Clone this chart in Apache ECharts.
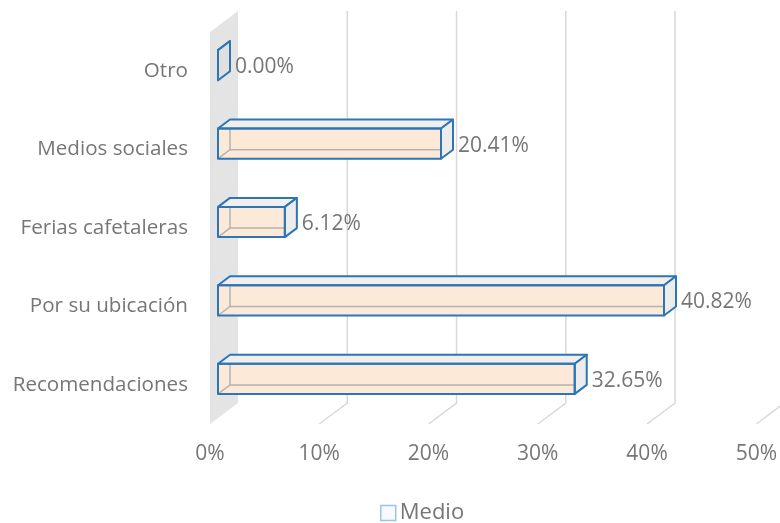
<!DOCTYPE html>
<html>
<head>
<meta charset="utf-8">
<script src="https://cdn.jsdelivr.net/npm/echarts@6/dist/echarts.min.js"></script>
<style>
  html, body { margin: 0; padding: 0; background: #ffffff; }
  #chart { width: 780px; height: 523px; }
</style>
</head>
<body>
<div id="chart"></div>
<script>
// Categories listed top to bottom
var categories = ['Otro', 'Medios sociales', 'Ferias cafetaleras', 'Por su ubicación', 'Recomendaciones'];
// Share of answers (%)
var values = [0.00, 20.41, 6.12, 40.82, 32.65];
// Value-axis ticks (%)
var xTicks = [0, 10, 20, 30, 40, 50];
var seriesName = 'Medio';

var FONT = '"Open Sans", "Noto Sans", sans-serif';
var TEXT = '#767676';
var GRID = '#d9d9d9';
var WALL = '#e4e4e4';
var EDGE = '#2e75b6';
var INNER = '#b3b3b3';
var FRONT = '#fce9d7';
var TOP = '#f1efee';
var END = '#eeeceb';

// Oblique depth of the plot box (pixels)
var DEPTH_X = 28, DEPTH_Y = 21;
// Bar sits between these fractions of the depth
var BAR_D0 = 8 / 28, BAR_D1 = 20 / 28;
var BAR_FRAC = 0.385;

function renderGrid(params, api) {
  var v = api.value(0);
  var cs = params.coordSys;
  var x = api.coord([v, 0])[0];
  var bottom = cs.y + cs.height;
  var top = cs.y;
  var children = [];
  if (v === 0) {
    children.push({
      type: 'polygon',
      shape: { points: [[x, bottom], [x + DEPTH_X, bottom - DEPTH_Y], [x + DEPTH_X, top - DEPTH_Y], [x, top]] },
      style: { fill: WALL, stroke: null }
    });
  } else {
    children.push({
      type: 'polyline',
      shape: { points: [[x, bottom], [x + DEPTH_X, bottom - DEPTH_Y], [x + DEPTH_X, top - DEPTH_Y]] },
      style: { fill: null, stroke: GRID, lineWidth: 1.5 }
    });
  }
  return { type: 'group', children: children };
}

function renderBar(params, api) {
  var val = api.value(0);
  var idx = api.value(1);
  var p0 = api.coord([0, idx]);
  var p1 = api.coord([val, idx]);
  var band = api.size([0, 1])[1];
  var h = band * BAR_FRAC;
  var fdx = DEPTH_X * BAR_D0, fdy = DEPTH_Y * BAR_D0;
  var bdx = DEPTH_X * BAR_D1, bdy = DEPTH_Y * BAR_D1;

  var xf0 = p0[0] + fdx, xf1 = p1[0] + fdx;
  var cyf = p0[1] - fdy;
  var yft = cyf - h / 2, yfb = cyf + h / 2;
  var xb0 = p0[0] + bdx, xb1 = p1[0] + bdx;
  var cyb = p0[1] - bdy;
  var ybt = cyb - h / 2, ybb = cyb + h / 2;

  var edge = { stroke: EDGE, lineWidth: 2, lineJoin: 'round' };
  var children = [];
  // front face
  children.push({
    type: 'polygon',
    shape: { points: [[xf0, yft], [xf1, yft], [xf1, yfb], [xf0, yfb]] },
    style: { fill: FRONT, stroke: null }
  });
  // hidden back edges seen through the face
  children.push({
    type: 'polyline',
    shape: { points: [[xf0, yfb], [xb0, ybb], [xb1, ybb]] },
    style: { fill: null, stroke: INNER, lineWidth: 1.5 }
  });
  children.push({
    type: 'line',
    shape: { x1: xb0, y1: ybt, x2: xb0, y2: ybb },
    style: { stroke: INNER, lineWidth: 1.5 }
  });
  // top face
  children.push({
    type: 'polygon',
    shape: { points: [[xf0, yft], [xf1, yft], [xb1, ybt], [xb0, ybt]] },
    style: Object.assign({ fill: TOP }, edge)
  });
  // end face
  children.push({
    type: 'polygon',
    shape: { points: [[xf1, yft], [xb1, ybt], [xb1, ybb], [xf1, yfb]] },
    style: Object.assign({ fill: val === 0 ? '#e2e0df' : END }, edge)
  });
  // front outline
  children.push({
    type: 'polygon',
    shape: { points: [[xf0, yft], [xf1, yft], [xf1, yfb], [xf0, yfb]] },
    style: Object.assign({ fill: null }, edge)
  });
  // value label
  children.push({
    type: 'text',
    x: xb1 + 5,
    y: cyf + 2,
    style: {
      text: val.toFixed(2) + '%',
      fill: TEXT,
      font: '21px ' + FONT,
      textAlign: 'left',
      textVerticalAlign: 'middle'
    }
  });
  return { type: 'group', children: children };
}

var chart = echarts.init(document.getElementById('chart'), null, { renderer: 'canvas' });
chart.setOption({
  backgroundColor: '#ffffff',
  animation: false,
  grid: { left: 210, right: 20, top: 32, bottom: 99, containLabel: false },
  xAxis: {
    type: 'value', min: 0, max: 50, interval: 10,
    axisLine: { show: false }, axisTick: { show: false }, splitLine: { show: false },
    axisLabel: { formatter: '{value}%', color: TEXT, fontSize: 21, fontFamily: FONT, margin: 20 }
  },
  yAxis: {
    type: 'category', data: categories, inverse: true,
    axisLine: { show: false }, axisTick: { show: false }, splitLine: { show: false },
    axisLabel: { color: TEXT, fontSize: 20.6, fontFamily: FONT, margin: 22 }
  },
  legend: {
    bottom: -6, left: 375,
    itemWidth: 15, itemHeight: 15, itemGap: 6,
    textStyle: { color: TEXT, fontSize: 22, fontFamily: FONT, padding: [0, 0, 0, -1] },
    data: [{ name: seriesName, icon: 'rect', itemStyle: { color: '#f7fafd', borderColor: '#9dc3e6', borderWidth: 1.5 } }]
  },
  series: [
    {
      name: 'grid', type: 'custom', renderItem: renderGrid, clip: false, silent: true, z: 1,
      data: xTicks.map(function (t) { return [t]; })
    },
    {
      name: seriesName, type: 'custom', renderItem: renderBar, clip: false, z: 2,
      itemStyle: { color: FRONT, borderColor: EDGE },
      encode: { x: 0, y: 1 },
      data: values.map(function (v, i) { return [v, i]; })
    }
  ]
});
</script>
</body>
</html>
